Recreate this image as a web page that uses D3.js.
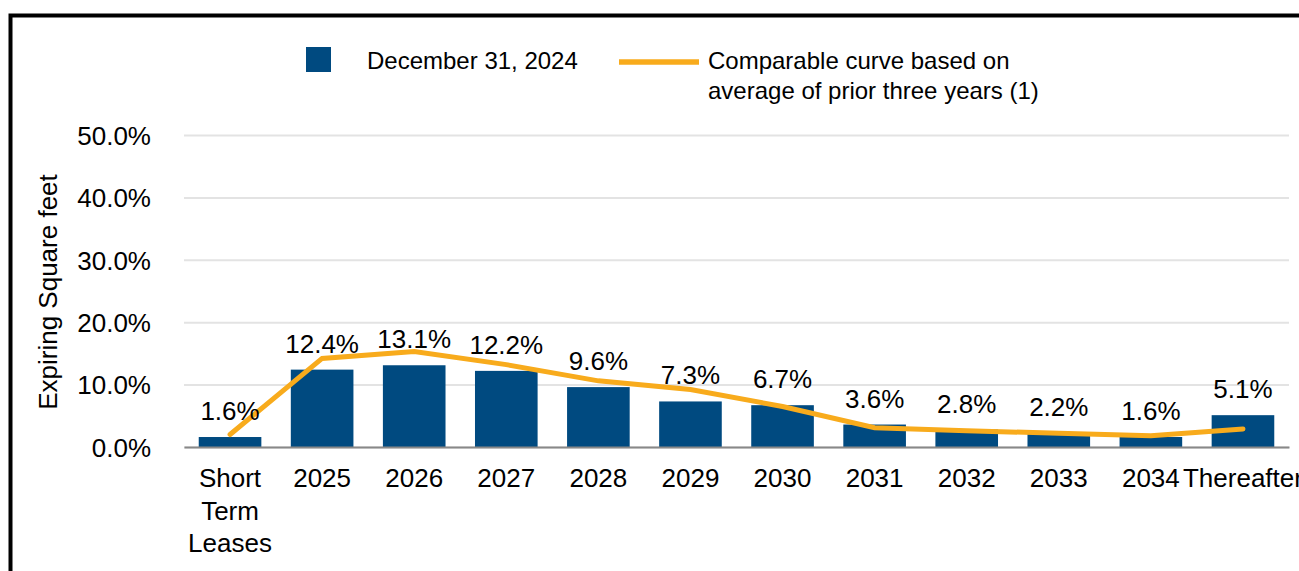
<!DOCTYPE html>
<html>
<script src="https://d3js.org/d3.v7.min.js"></script>

<head>
    <style>
        body {
            margin: 0;
            background-color: #ffffff;
            font-family: "Liberation Sans", Arial, Helvetica, sans-serif;
        }

        svg {
            display: block;
        }
    </style>
</head>

<body>
</body>
<script>
    const width = 1299,
        height = 571;

    // data
    const categories = ["Short Term Leases", "2025", "2026", "2027", "2028", "2029",
        "2030", "2031", "2032", "2033", "2034", "Thereafter"];
    const expiring2024 = [1.6, 12.4, 13.1, 12.2, 9.6, 7.3, 6.7, 3.6, 2.8, 2.2, 1.6, 5.1];
    const comparableCurve = [2.0, 14.2, 15.3, 13.2, 10.6, 9.2, 6.5, 3.1, 2.6, 2.2, 1.8, 2.9];
    const yTicks = [0, 10, 20, 30, 40, 50];
    const legendBars = "December 31, 2024";
    const legendLine = ["Comparable curve based on", "average of prior three years (1)"];

    const barColor = "#004a80",
        lineColor = "#f8ab1c";

    const svg = d3.select("body").append("svg").attr("width", width).attr("height", height);

    // outer frame, runs off the right and bottom edges
    svg.append("rect")
        .attr("x", 10.5)
        .attr("y", 15.5)
        .attr("width", 1400)
        .attr("height", 700)
        .attr("fill", "none")
        .attr("stroke", "black")
        .attr("stroke-width", 4);

    const x = d3.scaleBand()
        .domain(categories)
        .range([184, 1289])
        .paddingInner(0.32)
        .paddingOuter(0.16);

    const y = d3.scaleLinear()
        .domain([0, 50])
        .range([447, 135]);

    // y axis + gridlines
    const yAxis = svg.append("g")
        .attr("transform", "translate(184,0)")
        .call(d3.axisLeft(y)
            .tickValues(yTicks)
            .tickSize(-(1289 - 184))
            .tickPadding(33)
            .tickFormat(d => d3.format(".1f")(d) + "%"));
    yAxis.select(".domain").remove();
    yAxis.selectAll(".tick line")
        .attr("stroke", "#e3e3e3")
        .attr("stroke-width", 2);
    yAxis.selectAll(".tick text")
        .attr("fill", "#000")
        .attr("font-size", 26)
        .attr("font-family", "Liberation Sans, Arial, sans-serif")
        .attr("dy", "0.36em");

    // bars
    svg.selectAll(".bar")
        .data(expiring2024)
        .join("rect")
        .attr("class", "bar")
        .attr("x", (d, i) => x(categories[i]))
        .attr("y", d => y(d))
        .attr("width", x.bandwidth())
        .attr("height", d => y(0) - y(d))
        .attr("fill", barColor);

    // baseline
    const xAxis = svg.append("g")
        .attr("transform", `translate(0,${y(0)})`)
        .call(d3.axisBottom(x).tickSize(0).tickFormat(""));
    xAxis.select(".domain")
        .attr("stroke", "#888")
        .attr("stroke-width", 2);

    // category labels, wrapped on spaces
    svg.selectAll(".xlabel")
        .data(categories)
        .join("text")
        .attr("class", "xlabel")
        .attr("x", d => x(d) + x.bandwidth() / 2)
        .attr("y", 487)
        .attr("text-anchor", "middle")
        .attr("font-size", 26)
        .each(function (d) {
            const words = d.split(" ");
            d3.select(this).selectAll("tspan")
                .data(words)
                .join("tspan")
                .attr("x", x(d) + x.bandwidth() / 2)
                .attr("dy", (w, i) => i == 0 ? 0 : 32.5)
                .text(w => w);
        });

    // comparable curve
    const line = d3.line()
        .x((d, i) => x(categories[i]) + x.bandwidth() / 2)
        .y(d => y(d));
    svg.append("path")
        .datum(comparableCurve)
        .attr("fill", "none")
        .attr("stroke", lineColor)
        .attr("stroke-width", 5)
        .attr("stroke-linecap", "round")
        .attr("d", line);

    // value labels
    svg.selectAll(".val")
        .data(expiring2024)
        .join("text")
        .attr("class", "val")
        .attr("x", (d, i) => x(categories[i]) + x.bandwidth() / 2)
        .attr("y", d => y(d) - 17)
        .attr("text-anchor", "middle")
        .attr("font-size", 26)
        .text(d => d3.format(".1f")(d) + "%");

    // y axis title
    svg.append("text")
        .attr("transform", "translate(57,292) rotate(-90)")
        .attr("text-anchor", "middle")
        .attr("font-size", 26)
        .text("Expiring Square feet");

    // legend
    const legend = svg.append("g");
    legend.append("rect")
        .attr("x", 306)
        .attr("y", 47)
        .attr("width", 25)
        .attr("height", 25)
        .attr("fill", barColor);
    legend.append("text")
        .attr("x", 367)
        .attr("y", 69)
        .attr("font-size", 24)
        .text(legendBars);
    legend.append("line")
        .attr("x1", 619)
        .attr("x2", 699)
        .attr("y1", 62)
        .attr("y2", 62)
        .attr("stroke", lineColor)
        .attr("stroke-width", 5.5);
    legend.append("text")
        .attr("font-size", 24)
        .selectAll("tspan")
        .data(legendLine)
        .join("tspan")
        .attr("x", 708)
        .attr("y", (d, i) => 69 + i * 30)
        .text(d => d);
</script>

</html>
